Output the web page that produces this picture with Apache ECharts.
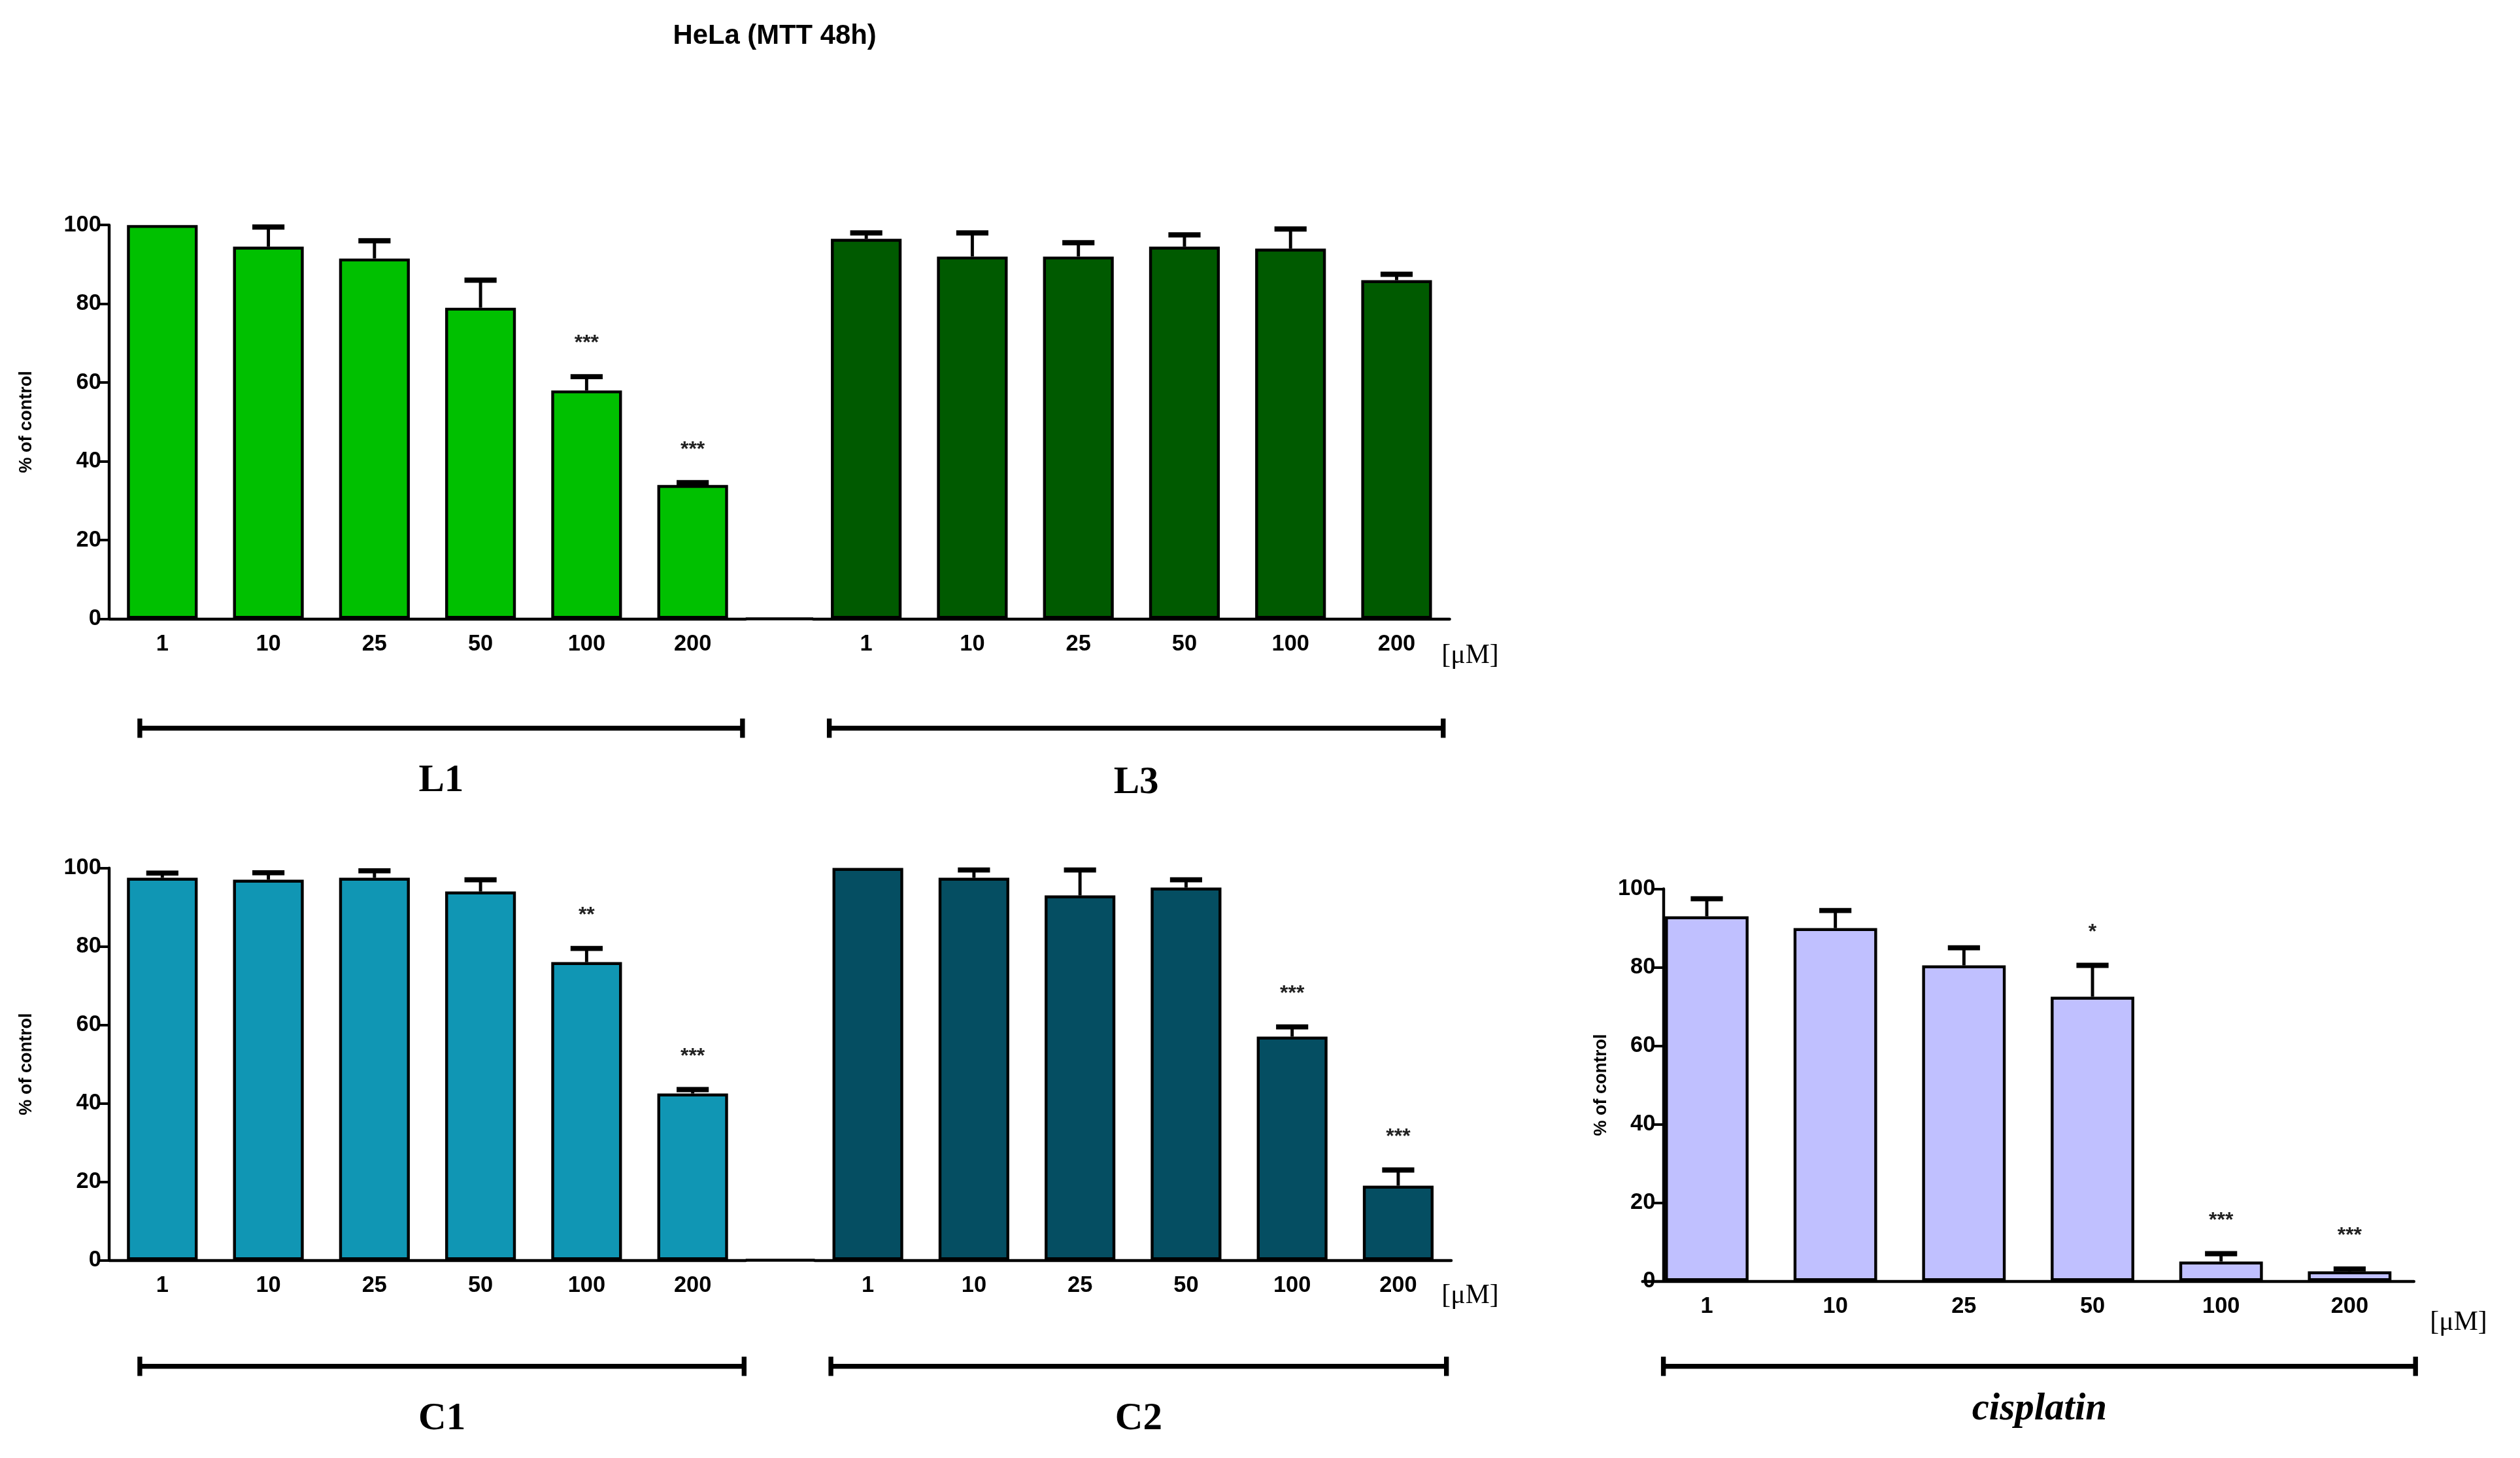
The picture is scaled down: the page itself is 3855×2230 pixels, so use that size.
<!DOCTYPE html>
<html>
<head>
<meta charset="utf-8">
<script src="https://cdn.jsdelivr.net/npm/echarts@6/dist/echarts.min.js"></script>
<style>html,body{margin:0;padding:0;background:#fff}#main{width:3855px;height:2230px}</style>
</head>
<body>
<div id="main"></div>
<script>
// HeLa MTT 48h
const doses = ['1', '10', '25', '50', '100', '200'];

const l1Values = [100, 94.5, 91.5, 79, 58, 34];
const l1Errors = [0, 5, 4.5, 7, 3.5, 0.6];
const l1Stars = ['', '', '', '', '***', '***'];

const l3Values = [96.5, 92, 92, 94.5, 94, 86];
const l3Errors = [1.5, 6, 3.5, 3, 5, 1.5];
const l3Stars = ['', '', '', '', '', ''];

const c1Values = [97.5, 97, 97.5, 94, 76, 42.5];
const c1Errors = [1.2, 1.8, 1.8, 3, 3.5, 1];
const c1Stars = ['', '', '', '', '**', '***'];

const c2Values = [100, 97.5, 93, 95, 57, 19];
const c2Errors = [0, 2, 6.5, 2, 2.5, 4];
const c2Stars = ['', '', '', '', '***', '***'];

const cisValues = [93, 90, 80.5, 72.5, 5, 2.5];
const cisErrors = [4.5, 4.5, 4.5, 8, 2, 0.6];
const cisStars = ['', '', '', '*', '***', '***'];

const yTicks = [0, 20, 40, 60, 80, 100];

const S = 3855 / 1568;
const px = v => v * S;
const tickFont = '"Liberation Sans Narrow", "Liberation Sans", Arial, sans-serif';

const chart = echarts.init(document.getElementById('main'));

const grids = [], xAxes = [], yAxes = [], series = [];

function panel(opt) {
    const gi = grids.length;
    grids.push({ left: px(opt.left), top: px(opt.top), width: px(opt.width), height: px(opt.height) });
    xAxes.push({
        gridIndex: gi, type: 'category', data: doses,
        axisLine: { lineStyle: { color: '#000', width: px(1.8) } },
        axisTick: { alignWithLabel: true, length: px(6), lineStyle: { color: '#000', width: px(1.6) } },
        axisLabel: { color: '#000', fontFamily: tickFont, fontWeight: 'bold', fontSize: px(14), margin: px(9) }
    });
    yAxes.push({
        gridIndex: gi, type: 'value', min: yTicks[0], max: yTicks[yTicks.length - 1], interval: 20,
        show: opt.showY, offset: opt.yOffset ? px(opt.yOffset) : 0,
        name: '% of control', nameLocation: 'middle', nameGap: px(opt.nameGap || 46), nameRotate: 90,
        nameTextStyle: { color: '#000', fontFamily: 'Liberation Sans, Arial', fontWeight: 'bold', fontSize: px(11) },
        splitLine: { show: false },
        axisLine: { show: true, lineStyle: { color: '#000', width: px(1.8) } },
        axisTick: { show: true, length: px(6), lineStyle: { color: '#000', width: px(1.6) } },
        axisLabel: { color: '#000', fontFamily: tickFont, fontWeight: 'bold', fontSize: px(14), margin: px(5) }
    });
    series.push({
        type: 'bar', xAxisIndex: gi, yAxisIndex: gi, data: opt.values,
        barWidth: px(opt.barWidth || 44),
        itemStyle: { color: opt.color, borderColor: '#000', borderWidth: px(1.8) },
        z: 2
    });
    series.push({
        type: 'custom', xAxisIndex: gi, yAxisIndex: gi, z: 3,
        data: opt.values.map((v, i) => [i, v, opt.errors[i], opt.stars[i]]),
        renderItem: function (params, api) {
            const i = api.value(0), v = api.value(1), e = api.value(2);
            const stars = opt.stars[i];
            const base = api.coord([i, v]);
            const top = api.coord([i, v + e]);
            const children = [];
            if (e > 0) {
                children.push({ type: 'line', shape: { x1: base[0], y1: base[1], x2: top[0], y2: top[1] },
                    style: { stroke: '#000', lineWidth: px(2) } });
                children.push({ type: 'line', shape: { x1: top[0] - px(10), y1: top[1], x2: top[0] + px(10), y2: top[1] },
                    style: { stroke: '#000', lineWidth: px(3.2) } });
            }
            if (stars) {
                children.push({ type: 'text', x: top[0], y: top[1] - px(14),
                    style: { text: stars, fill: '#222', font: 'bold ' + px(13) + 'px Liberation Sans, Arial',
                        align: 'center', verticalAlign: 'bottom' } });
            }
            return { type: 'group', children: children };
        }
    });
}

panel({ left: 68, top: 140, width: 396, height: 245, values: l1Values, errors: l1Errors, stars: l1Stars, color: '#00c000', showY: true });
panel({ left: 506, top: 140, width: 396, height: 245, values: l3Values, errors: l3Errors, stars: l3Stars, color: '#005a00', showY: false });
panel({ left: 68, top: 540, width: 396, height: 244, values: c1Values, errors: c1Errors, stars: c1Stars, color: '#1096b4', showY: true });
panel({ left: 507, top: 540, width: 396, height: 244, values: c2Values, errors: c2Errors, stars: c2Stars, color: '#054e62', showY: false });
panel({ left: 1022, top: 553, width: 480, height: 244, values: cisValues, errors: cisErrors, stars: cisStars, color: '#c0c0ff', showY: true, yOffset: -13, nameGap: 33, barWidth: 52 });

// decorations: axis bridges, group brackets, unit labels
const graphics = [];
function hline(x1, x2, y, w) {
    graphics.push({ type: 'line', shape: { x1: px(x1), y1: px(y), x2: px(x2), y2: px(y) }, style: { stroke: '#000', lineWidth: px(w) } });
}
function bracket(x1, x2, y, label, labelY, italic) {
    hline(x1, x2, y, 3);
    [x1, x2].forEach(x => graphics.push({ type: 'line', shape: { x1: px(x), y1: px(y - 6), x2: px(x), y2: px(y + 6) }, style: { stroke: '#000', lineWidth: px(3) } }));
    graphics.push({ type: 'text', x: px((x1 + x2) / 2), y: px(labelY),
        style: { text: label, fill: '#000', align: 'center', verticalAlign: 'middle',
            font: (italic ? 'italic ' : '') + 'bold ' + px(24) + 'px "Liberation Serif", "Times New Roman", serif' } });
}
function unit(x, y) {
    graphics.push({ type: 'text', x: px(x), y: px(y),
        style: { text: '[\u03bcM]', fill: '#000', align: 'left', verticalAlign: 'middle', font: px(17) + 'px "Liberation Serif", serif' } });
}
hline(464, 506, 385, 1.8);
hline(464, 507, 784, 1.8);
bracket(87, 462, 453, 'L1', 486);
bracket(516, 898, 453, 'L3', 487);
bracket(87, 463, 850, 'C1', 883);
bracket(517, 900, 850, 'C2', 883);
bracket(1035, 1503, 850, 'cisplatin', 877, true);
unit(897, 408);
unit(897, 806);
unit(1512, 823);

chart.setOption({
    backgroundColor: '#fff',
    animation: false,
    title: { text: 'HeLa (MTT 48h)', left: px(480), top: px(12), textAlign: 'center',
        textStyle: { fontFamily: 'Liberation Sans, Arial', fontWeight: 'bold', fontSize: px(17), color: '#000' } },
    grid: grids, xAxis: xAxes, yAxis: yAxes, series: series,
    graphic: graphics
});
</script>
</body>
</html>
